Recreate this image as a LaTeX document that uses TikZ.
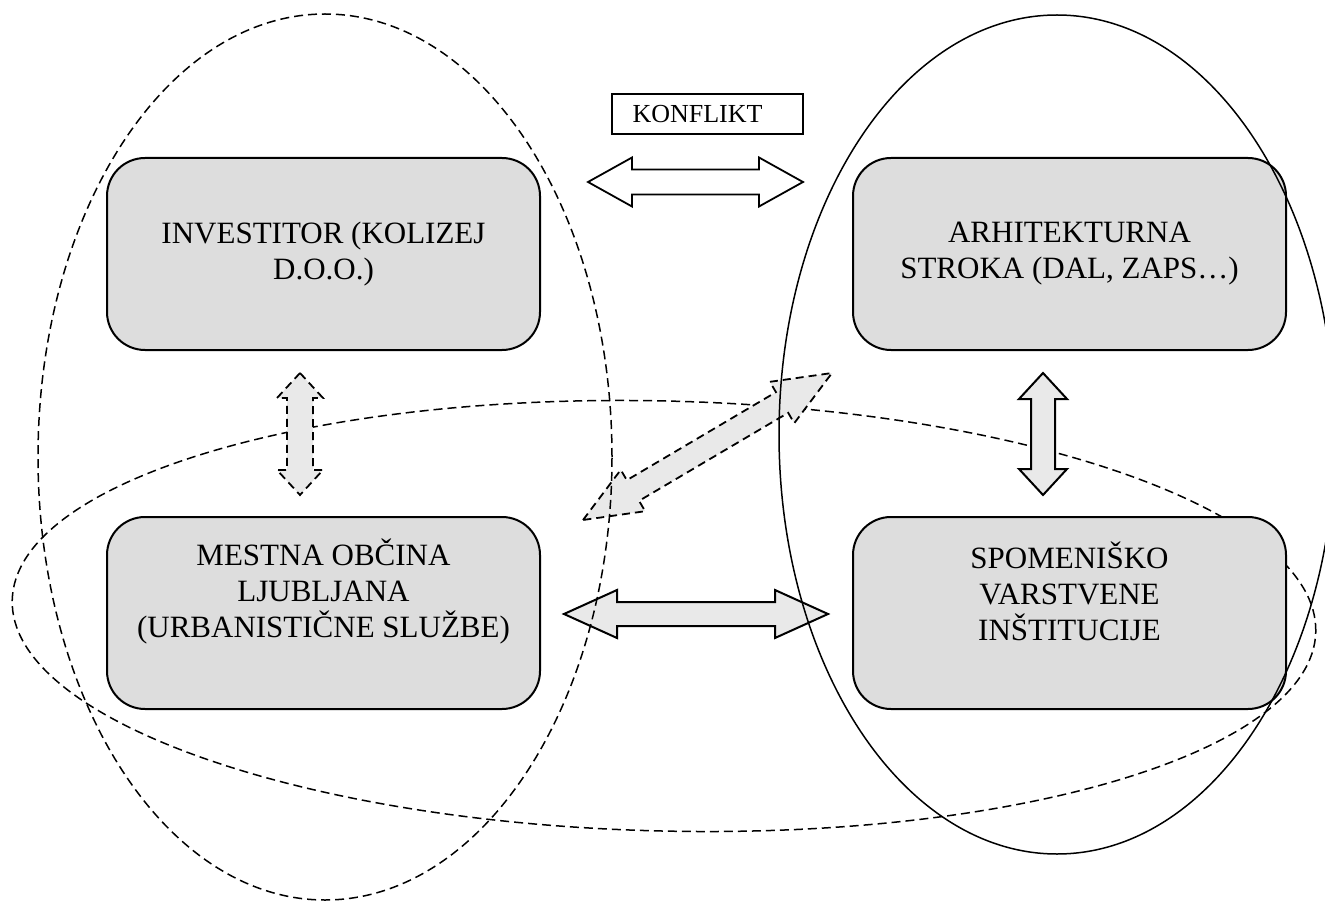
\documentclass[tikz,border=0pt]{standalone}
\usepackage{fontspec}
\setmainfont{Liberation Serif}
\usetikzlibrary{calc,shapes.geometric}
\definecolor{boxgray}{RGB}{221,221,221}
\definecolor{arrgray}{RGB}{233,233,233}
\newcommand{\blockarr}[6]{%
  \draw[#1] (#2)
    -- ($(#2)!#4!(#3)!#5!90:(#3)$)
    -- ($(#2)!#4!(#3)!#6!90:(#3)$)
    -- ($(#3)!#4!(#2)!#6!-90:(#2)$)
    -- ($(#3)!#4!(#2)!#5!-90:(#2)$)
    -- (#3)
    -- ($(#3)!#4!(#2)!#5!90:(#2)$)
    -- ($(#3)!#4!(#2)!#6!90:(#2)$)
    -- ($(#2)!#4!(#3)!#6!-90:(#3)$)
    -- ($(#2)!#4!(#3)!#5!-90:(#3)$)
    -- cycle;}
\tikzset{
  box/.style={draw, line width=2pt, fill=boxgray, rounded corners=38pt,
    minimum width=433pt, minimum height=192pt, inner sep=0pt},
  lbl/.style={align=center, inner sep=0pt, font=\fontsize{31}{36}\selectfont},
  dashell/.style={ellipse, draw, line width=1.5pt, dash pattern=on 9pt off 5pt, inner sep=0pt},
  solidell/.style={ellipse, draw, line width=1.5pt, inner sep=0pt},
  arrsolid/.style={draw, line width=2pt, fill=arrgray, line join=miter},
  arrwhite/.style={draw, line width=1.8pt, fill=white, line join=miter},
  arrdash/.style={draw, line width=1.8pt, fill=arrgray, dash pattern=on 8pt off 5pt, line join=miter},
  konf/.style={draw, line width=1.5pt, fill=white, minimum width=191pt, minimum height=40pt,
    inner sep=0pt, text width=150pt, align=left, font=\fontsize{26}{30}\selectfont}
}
\begin{document}
\begin{tikzpicture}[x=1pt,y=-1pt]
\clip (0,0) rectangle (1325,901);
% horizontal dashed group
\node[dashell, minimum width=1304pt, minimum height=430pt, rotate=-1.4] (grpH) at (664,616) {};
% boxes
\node[box] (inv) at (323.5,254) {};
\node[box] (arh) at (1069.5,254) {};
\node[box] (mol) at (323.5,613) {};
\node[box] (spo) at (1069.5,613) {};
\node[lbl] (invT) at (323.5,254) {INVESTITOR (KOLIZEJ\\D.O.O.)};
\node[lbl] (arhT) at (1069.5,254) {ARHITEKTURNA\\STROKA (DAL, ZAPS…)};
\node[lbl] (molT) at (323.5,591) {MESTNA OBČINA\\LJUBLJANA\\(URBANISTIČNE SLUŽBE)};
\node[lbl] (spoT) at (1069.5,591) {SPOMENIŠKO\\VARSTVENE\\INŠTITUCIJE};
% konflikt
\node[konf] (konf) at (707.5,114) {KONFLIKT};
% arrow end points
\coordinate (tA1) at (588,182); \coordinate (tA2) at (803,182);
\coordinate (bA1) at (564,614); \coordinate (bA2) at (828,614);
\coordinate (rA1) at (1043,373); \coordinate (rA2) at (1043,495);
\coordinate (lA1) at (300,373); \coordinate (lA2) at (300,495);
\coordinate (dA1) at (583,520); \coordinate (dA2) at (832,373);
\blockarr{arrwhite}{tA1}{tA2}{44pt}{24.5pt}{12.5pt}
\blockarr{arrsolid}{bA1}{bA2}{53pt}{24pt}{12pt}
\blockarr{arrsolid}{rA1}{rA2}{26pt}{24pt}{12pt}
\blockarr{arrdash}{lA1}{lA2}{25pt}{23pt}{13pt}
\blockarr{arrdash}{dA1}{dA2}{58pt}{24pt}{12pt}
% vertical groups
\node[dashell, minimum width=574pt, minimum height=886pt] (grpL) at (325,457) {};
\node[solidell, minimum width=556pt, minimum height=839pt] (grpR) at (1057,434.5) {};
\end{tikzpicture}
\end{document}
